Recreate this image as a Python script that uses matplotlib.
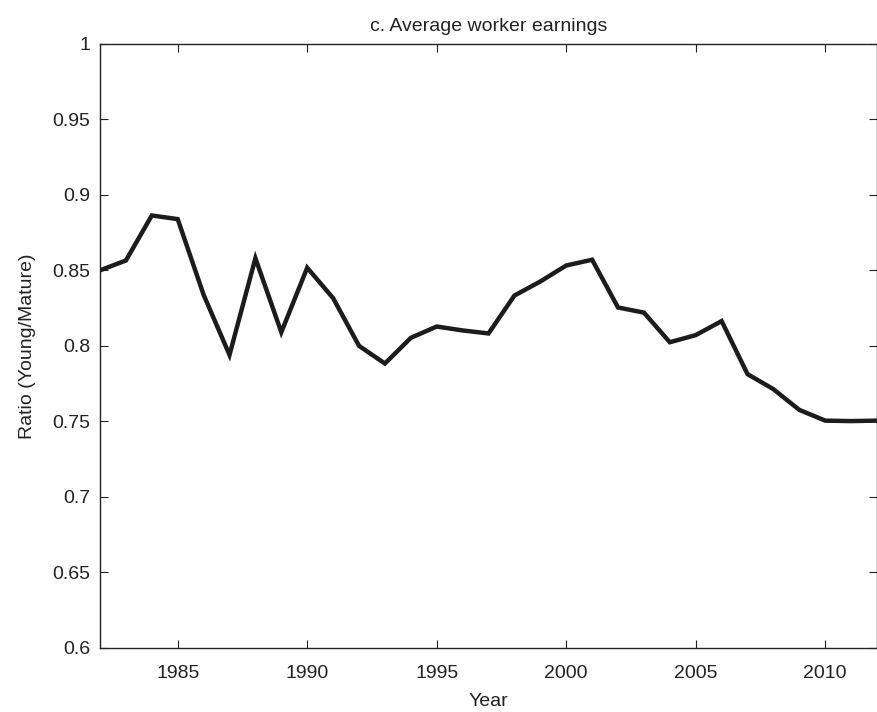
import matplotlib
matplotlib.use("Agg")
import matplotlib.pyplot as plt

plt.rcParams['font.family'] = ['Liberation Sans', 'DejaVu Sans']

# data
years = list(range(1982, 2013))
ratio = [0.850, 0.8565, 0.8863, 0.8839, 0.8338, 0.794, 0.858, 0.809, 0.8517,
         0.8316, 0.8, 0.7883, 0.8053, 0.8128, 0.8102, 0.8082, 0.8333, 0.8426,
         0.8532, 0.857, 0.8254, 0.822, 0.8024, 0.8071, 0.8164, 0.7813, 0.7713,
         0.7576, 0.7505, 0.7502, 0.7505]

yticks = [0.6, 0.65, 0.7, 0.75, 0.8, 0.85, 0.9, 0.95, 1.0]
ytick_labels = ['0.6', '0.65', '0.7', '0.75', '0.8', '0.85', '0.9', '0.95', '1']
xticks = [1985, 1990, 1995, 2000, 2005, 2010]

fig = plt.figure(figsize=(8.78, 7.12), dpi=100)
ax = fig.add_axes([0.1139, 0.0899, 0.8850, 0.8487])

ax.plot(years, ratio, color='#1c1c1c', linewidth=3.2, solid_joinstyle='miter')

ax.set_xlim(1982, 2012)
ax.set_ylim(0.6, 1.0)
ax.set_xticks(xticks)
ax.set_yticks(yticks)
ax.set_yticklabels(ytick_labels)
ax.tick_params(direction='in', top=True, right=True, length=6, width=0.8,
               labelsize=14, colors='#222222')
ax.tick_params(axis='x', pad=12)
ax.tick_params(axis='y', pad=7)
for s in ax.spines.values():
    s.set_linewidth(1.0)
    s.set_color('#222222')

ax.set_title('c. Average worker earnings', fontsize=14, color='#222222', pad=9)
ax.set_xlabel('Year', fontsize=14, color='#222222', labelpad=8.5)
ax.set_ylabel('Ratio (Young/Mature)', fontsize=14, color='#222222', labelpad=12)

fig.savefig('out.png', dpi=100)
